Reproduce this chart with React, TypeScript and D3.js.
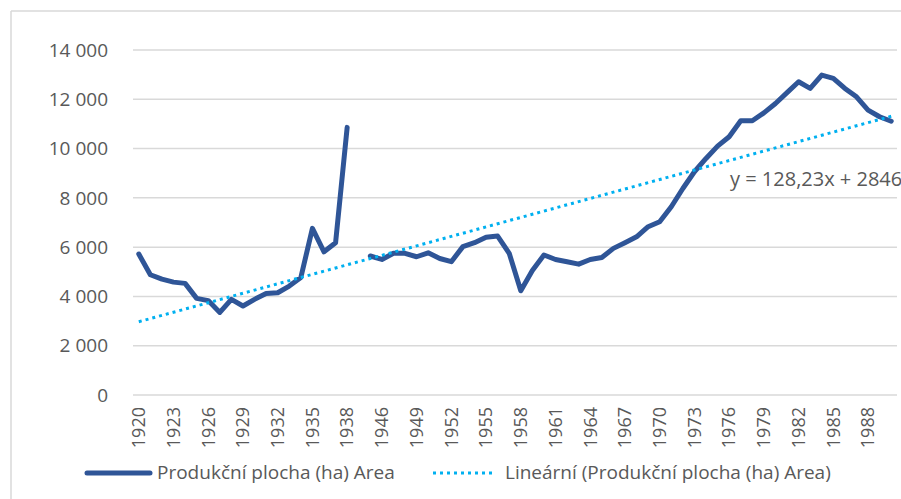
import React from 'react';
import * as d3 from 'd3';

// categories on the x axis (index 19 is an empty slot between 1938 and 1945)
const years: string[] = [
  '1920', '1921', '1922', '1923', '1924', '1925', '1926', '1927', '1928', '1929',
  '1930', '1931', '1932', '1933', '1934', '1935', '1936', '1937', '1938', '1944',
  '1945', '1946', '1947', '1948', '1949', '1950', '1951', '1952', '1953', '1954',
  '1955', '1956', '1957', '1958', '1959', '1960', '1961', '1962', '1963', '1964',
  '1965', '1966', '1967', '1968', '1969', '1970', '1971', '1972', '1973', '1974',
  '1975', '1976', '1977', '1978', '1979', '1980', '1981', '1982', '1983', '1984',
  '1985', '1986', '1987', '1988', '1989', '1990',
];

// Produkční plocha (ha) Area
const area: (number | null)[] = [
  5720, 4880, 4700, 4580, 4530, 3920, 3830, 3350, 3880, 3610,
  3880, 4120, 4150, 4420, 4770, 6760, 5810, 6180, 10860, null,
  5640, 5500, 5750, 5750, 5610, 5770, 5540, 5410, 6020, 6180,
  6400, 6450, 5750, 4230, 5050, 5680, 5500, 5410, 5310, 5500,
  5580, 5950, 6180, 6420, 6830, 7030, 7640, 8380, 9060, 9600,
  10100, 10480, 11130, 11130, 11450, 11830, 12270, 12710, 12440, 12980,
  12850, 12440, 12100, 11560, 11290, 11110,
];

const yTicks = [0, 2000, 4000, 6000, 8000, 10000, 12000, 14000];

// excel linear trendline y = 128,23x + 2846 (x = 1..n)
const trendSlope = 128.23;
const trendIntercept = 2846;
const trendLabel = 'y = 128,23x + 2846';

const seriesName = 'Produkční plocha (ha) Area';
const trendName = 'Lineární (Produkční plocha (ha) Area)';

const W = 901;
const H = 499;
const FONT = '"Open Sans", sans-serif';
const TEXT = '#595959';
const LINE = '#2F5597';
const TREND = '#00B0F0';

export default function App() {
  const x = d3.scaleBand<string>().domain(years).range([133, 897]);
  const y = d3.scaleLinear().domain([0, 14000]).range([395, 50]);
  const cx = (d: string) => (x(d) as number) + x.bandwidth() / 2;

  const dataLine = d3
    .line<number | null>()
    .defined((d) => d !== null)
    .x((d, i) => cx(years[i]))
    .y((d) => y(d as number));

  const trendPts = years.map((yr, i) => [cx(yr), y(trendSlope * (i + 1) + trendIntercept)] as [number, number]);
  const trendPath = d3.line()([trendPts[0], trendPts[trendPts.length - 1]]);

  const fmt = (v: number) => d3.format(',')(v).replace(/,/g, ' ');

  return (
    <svg width={W} height={H} style={{ position: 'absolute', left: 0, top: 0, background: '#fff' }}>
      {/* chart border */}
      <line x1={11} y1={11} x2={W} y2={11} stroke="#d9d9d9" strokeWidth={1.5} />
      <line x1={11} y1={11} x2={11} y2={H} stroke="#d9d9d9" strokeWidth={1.5} />

      {yTicks.map((t) => (
        <g key={t}>
          <line x1={133} x2={897} y1={y(t)} y2={y(t)} stroke="#d9d9d9" strokeWidth={1.5} />
          <text x={108} y={y(t)} dy="0.35em" textAnchor="end" fontFamily={FONT} fontSize={19} fill={TEXT}>
            {fmt(t)}
          </text>
        </g>
      ))}

      {years.map((yr, i) =>
        i % 3 === 0 ? (
          <text
            key={yr}
            transform={`translate(${cx(yr)},407) rotate(-90)`}
            dy="0.35em"
            textAnchor="end"
            fontFamily={FONT}
            fontSize={18}
            fill={TEXT}
          >
            {yr}
          </text>
        ) : null
      )}

      <path d={dataLine(area) || ''} fill="none" stroke={LINE} strokeWidth={5} strokeLinejoin="round" strokeLinecap="round" />
      <path d={trendPath || ''} fill="none" stroke={TREND} strokeWidth={3} strokeDasharray="3 4" />

      <text x={730} y={186} fontFamily={FONT} fontSize={20} fill={TEXT}>
        {trendLabel}
      </text>

      {/* legend */}
      <line x1={87} x2={150} y1={473} y2={473} stroke={LINE} strokeWidth={5} strokeLinecap="round" />
      <text x={157} y={479} fontFamily={FONT} fontSize={19} fill={TEXT}>
        {seriesName}
      </text>
      <line x1={433} x2={492} y1={473} y2={473} stroke={TREND} strokeWidth={3} strokeDasharray="3 4" />
      <text x={505} y={479} fontFamily={FONT} fontSize={19} fill={TEXT}>
        {trendName}
      </text>
    </svg>
  );
}
